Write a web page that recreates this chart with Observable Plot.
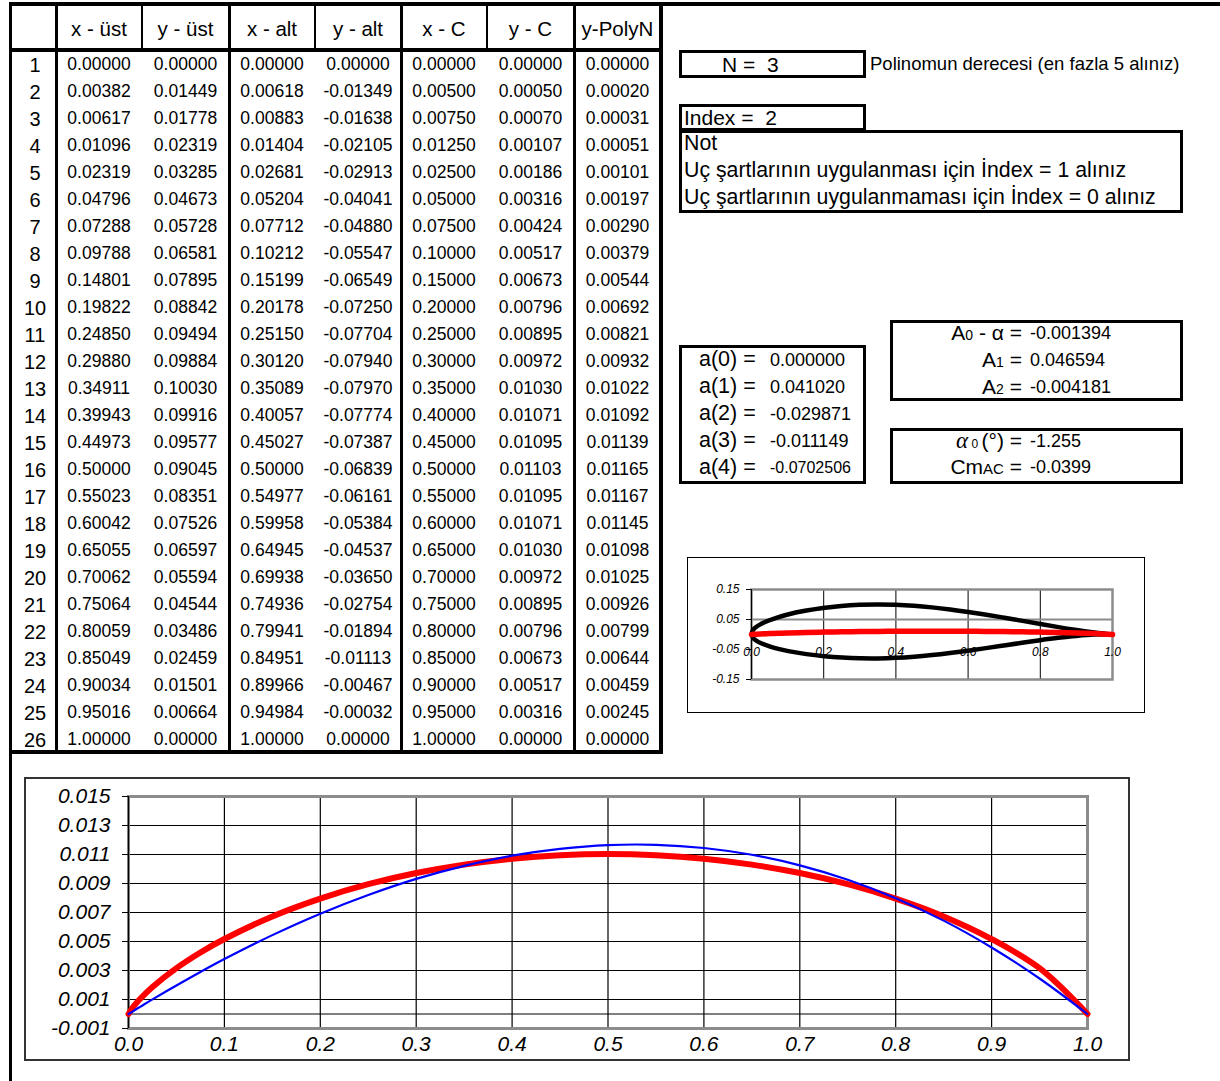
<!DOCTYPE html>
<html><head><meta charset="utf-8">
<script src="https://cdn.jsdelivr.net/npm/d3@7"></script>
<script src="https://cdn.jsdelivr.net/npm/@observablehq/plot@0.6"></script>
<style>
body{margin:0;background:#fff;font-family:"Liberation Sans",Arial,sans-serif;color:#000;}
#page{position:relative;width:1220px;height:1081px;overflow:hidden;background:#fff;}
.a{position:absolute;box-sizing:border-box;}
.t{position:absolute;white-space:pre;line-height:1;}
</style></head><body><div id="page"></div>
<script>
// ---------------- data ----------------
const rowNums = d3.range(1, 27);
const headers = ["x - üst","y - üst","x - alt","y - alt","x - C","y - C","y-PolyN"];
const xUst = [0.00000,0.00382,0.00617,0.01096,0.02319,0.04796,0.07288,0.09788,0.14801,0.19822,0.24850,0.29880,0.34911,0.39943,0.44973,0.50000,0.55023,0.60042,0.65055,0.70062,0.75064,0.80059,0.85049,0.90034,0.95016,1.00000];
const yUst = [0.00000,0.01449,0.01778,0.02319,0.03285,0.04673,0.05728,0.06581,0.07895,0.08842,0.09494,0.09884,0.10030,0.09916,0.09577,0.09045,0.08351,0.07526,0.06597,0.05594,0.04544,0.03486,0.02459,0.01501,0.00664,0.00000];
const xAlt = [0.00000,0.00618,0.00883,0.01404,0.02681,0.05204,0.07712,0.10212,0.15199,0.20178,0.25150,0.30120,0.35089,0.40057,0.45027,0.50000,0.54977,0.59958,0.64945,0.69938,0.74936,0.79941,0.84951,0.89966,0.94984,1.00000];
const yAlt = [0.00000,-0.01349,-0.01638,-0.02105,-0.02913,-0.04041,-0.04880,-0.05547,-0.06549,-0.07250,-0.07704,-0.07940,-0.07970,-0.07774,-0.07387,-0.06839,-0.06161,-0.05384,-0.04537,-0.03650,-0.02754,-0.01894,-0.01113,-0.00467,-0.00032,0.00000];
const xC = [0.00000,0.00500,0.00750,0.01250,0.02500,0.05000,0.07500,0.10000,0.15000,0.20000,0.25000,0.30000,0.35000,0.40000,0.45000,0.50000,0.55000,0.60000,0.65000,0.70000,0.75000,0.80000,0.85000,0.90000,0.95000,1.00000];
const yC = [0.00000,0.00050,0.00070,0.00107,0.00186,0.00316,0.00424,0.00517,0.00673,0.00796,0.00895,0.00972,0.01030,0.01071,0.01095,0.01103,0.01095,0.01071,0.01030,0.00972,0.00895,0.00796,0.00673,0.00517,0.00316,0.00000];
const yPoly = [0.00000,0.00020,0.00031,0.00051,0.00101,0.00197,0.00290,0.00379,0.00544,0.00692,0.00821,0.00932,0.01022,0.01092,0.01139,0.01165,0.01167,0.01145,0.01098,0.01025,0.00926,0.00799,0.00644,0.00459,0.00245,0.00000];

const N = 3;
const indexVal = 2;
const noteLines = ["Not","Uç şartlarının uygulanması için İndex = 1 alınız","Uç şartlarının uygulanmaması için İndex = 0 alınız"];
const polyNote = "Polinomun derecesi (en fazla 5 alınız)";
const aLabels = ["a(0) =","a(1) =","a(2) =","a(3) =","a(4) ="];
const aValues = ["0.000000","0.041020","-0.029871","-0.011149","-0.0702506"];
const ALabels = [["A","0"," - α ="],["A","1"," ="],["A","2"," ="]];
const AValues = ["-0.001394","0.046594","-0.004181"];
const alpha0 = "-1.255";
const cmAC = "-0.0399";

const smallXTicks = [0, 0.2, 0.4, 0.6, 0.8, 1.0];
const smallYTicks = [-0.15, -0.05, 0.05, 0.15];
const bigXTicks = [0,0.1,0.2,0.3,0.4,0.5,0.6,0.7,0.8,0.9,1.0];
const bigYTicks = [-0.001,0.001,0.003,0.005,0.007,0.009,0.011,0.013,0.015];

// ---------------- helpers ----------------
const page = document.getElementById("page");
function rect(l,t,w,h,style){const d=document.createElement("div");d.className="a";Object.assign(d.style,{left:l+"px",top:t+"px",width:w+"px",height:h+"px"},style||{});page.appendChild(d);return d;}
function hline(x1,x2,y,w){return rect(x1,y-w/2,x2-x1,w,{background:"#000"});}
function vline(x,y1,y2,w){return rect(x-w/2,y1,w,y2-y1,{background:"#000"});}
function box(l,t,r,b,w){return rect(l,t,r-l,b-t,{border:w+"px solid #000"});}
function txt(x,y,s,opt={}){const d=document.createElement("div");d.className="t";
  const anchor=opt.anchor||"start";
  const tx=anchor==="middle"?"-50%":anchor==="end"?"-100%":"0";
  Object.assign(d.style,{left:x+"px",top:y+"px",fontSize:(opt.size||18)+"px",transform:`translate(${tx},-50%)`},opt.style||{});
  if(opt.html) d.innerHTML=s; else d.textContent=s;
  page.appendChild(d);return d;}

// page frame lines
hline(9,1220,4,3.5);
vline(10.5,3,1081,3.5);

// ---------------- table ----------------
const colEdges=[10,56,142,229,315,401,487,574,661];
const headTop=4, headBot=50, rowH=27;
const tableBot=headBot+rowH*rowNums.length;
vline(661,headTop,tableBot+2,4);
hline(9,663,tableBot,4);
hline(9,663,headBot,3.5);
[56,229,401,574].forEach(x=>vline(x,headTop,tableBot,3));
[142,315,487].forEach(x=>vline(x,headTop,headBot,1.6));
headers.forEach((h,i)=>txt((colEdges[i+1]+colEdges[i+2])/2,29,h,{anchor:"middle",size:20.5}));
const cols=[xUst,yUst,xAlt,yAlt,xC,yC,yPoly];
rowNums.forEach((r,j)=>{
  const cy=headBot+rowH*j+rowH/2+1;
  txt(35,cy,String(r),{anchor:"middle",size:20});
  cols.forEach((c,i)=>txt((colEdges[i+1]+colEdges[i+2])/2,cy,c[j].toFixed(5),{anchor:"middle",size:17.5}));
});

// ---------------- right boxes ----------------
box(679,50,866,78,3);
txt(722,64,`N =  ${N}`,{size:21});
txt(870,64,polyNote,{size:18.5});
box(679,104,866,131,3);
txt(684,117,`Index =  ${indexVal}`,{size:21});
box(679,130,1183,213,3);
noteLines.forEach((s,i)=>txt(684,144+27*i,s,{size:21.3}));

box(679,345,866,484,3);
aLabels.forEach((s,i)=>{
  txt(699,360+27*i,s,{size:21.5});
  txt(770,360+27*i,aValues[i],{size:i===4?16:18});
});
box(890,320,1183,401,3);
ALabels.forEach((p,i)=>{
  txt(1022,332+27*i,`${p[0]}<span style="font-size:14px">${p[1]}</span>${p[2]}`,{anchor:"end",size:21,html:true});
  txt(1030,333+27*i,AValues[i],{size:18});
});
box(890,428,1183,484,3);
txt(1022,440,`<span style="font-family:'Liberation Serif',serif;font-style:italic;font-size:23px">α</span><span style="font-size:12px"> 0 </span>(°) =`,{anchor:"end",size:21,html:true});
txt(1030,441,alpha0,{size:18});
txt(1022,466,`Cm<span style="font-size:15px">AC</span> =`,{anchor:"end",size:21,html:true});
txt(1030,467,cmAC,{size:18});

// ---------------- small airfoil chart ----------------
const upper = xUst.map((x,i)=>({x,y:yUst[i]}));
const lower = xAlt.map((x,i)=>({x,y:yAlt[i]}));
const camber = xC.map((x,i)=>({x,y:yC[i]}));
const poly = xC.map((x,i)=>({x,y:yPoly[i]}));

const smallBox = rect(687,557,458,156,{border:"1.2px solid #000",background:"#fff"});
const small = Plot.plot({
  width:456, height:154,
  marginLeft:63, marginRight:32, marginTop:31, marginBottom:33,
  x:{domain:[0,1], axis:null}, y:{domain:[-0.15,0.15], axis:null},
  style:{fontFamily:"Liberation Sans, Arial, sans-serif", background:"transparent", overflow:"visible"},
  marks:[
    Plot.ruleX(smallXTicks.slice(1,-1),{stroke:"#000",strokeWidth:1}),
    Plot.ruleY([0.05],{stroke:"#8c8c8c",strokeWidth:2}),
    Plot.frame({stroke:"#8c8c8c",strokeWidth:2.5}),
    Plot.ruleX([0],{stroke:"#000",strokeWidth:1}),
    Plot.line(upper,{x:"x",y:"y",stroke:"#000",strokeWidth:4.5,curve:"catmull-rom"}),
    Plot.line(lower,{x:"x",y:"y",stroke:"#000",strokeWidth:4.5,curve:"catmull-rom"}),
    Plot.line(camber,{x:"x",y:"y",stroke:"#ff0000",strokeWidth:5.5,curve:"catmull-rom"}),
    Plot.axisY({ticks:smallYTicks,tickFormat:d=>d.toFixed(2),tickSize:5,tickPadding:7,fontSize:12,fontStyle:"italic",label:null,stroke:"#000"}),
    Plot.text(smallXTicks,{x:d=>d,y:()=>0,dy:18,text:d=>d.toFixed(1),fontSize:12,fontStyle:"italic"})
  ]
});
smallBox.appendChild(small);

// ---------------- big camber chart ----------------
const bigBox = rect(24,777,1106,284,{border:"2px solid #333",background:"#fff"});
const big = Plot.plot({
  width:1102, height:280,
  marginLeft:102, marginRight:41, marginTop:17, marginBottom:31,
  x:{domain:[0,1], axis:null}, y:{domain:[-0.001,0.015], axis:null},
  style:{fontFamily:"Liberation Sans, Arial, sans-serif", background:"transparent", overflow:"visible"},
  marks:[
    Plot.ruleX(bigXTicks.slice(1,-1),{stroke:"#000",strokeWidth:1.2}),
    Plot.ruleY(bigYTicks.slice(1,-1),{stroke:"#000",strokeWidth:1.2}),
    Plot.ruleY([0],{stroke:"#000",strokeWidth:1.2}),
    Plot.frame({stroke:"#8c8c8c",strokeWidth:3}),
    Plot.ruleX([0],{stroke:"#000",strokeWidth:1.2}),
    Plot.line(camber,{x:"x",y:"y",stroke:"#ff0000",strokeWidth:6,curve:"catmull-rom"}),
    Plot.line(poly,{x:"x",y:"y",stroke:"#0000ff",strokeWidth:2.2,curve:"catmull-rom"}),
    Plot.axisY({ticks:bigYTicks,tickFormat:d=>d.toFixed(3),tickSize:6,tickPadding:12,fontSize:21,fontStyle:"italic",label:null,stroke:"#000"}),
    Plot.axisX({ticks:bigXTicks,tickFormat:d=>d.toFixed(1),tickSize:0,tickPadding:8,fontSize:21,fontStyle:"italic",label:null})
  ]
});
bigBox.appendChild(big);
</script></body></html>
